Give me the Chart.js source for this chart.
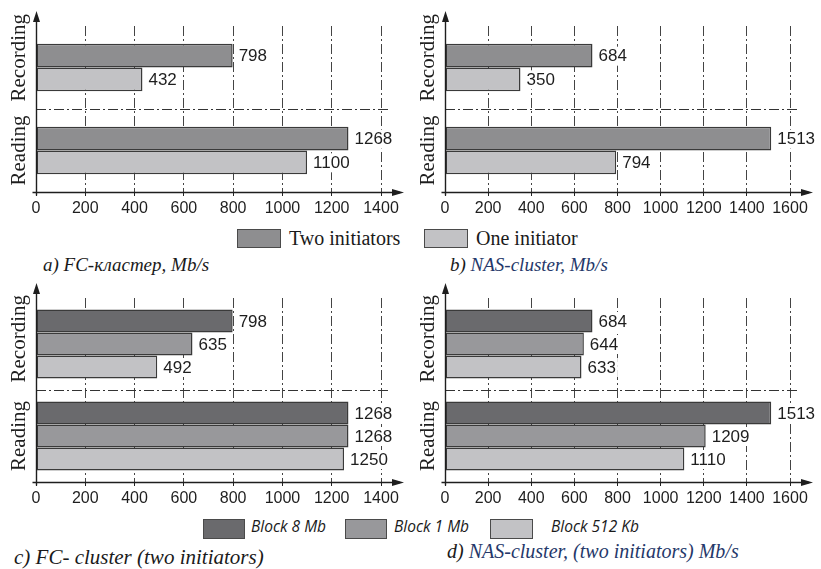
<!DOCTYPE html>
<html>
<head>
<meta charset="utf-8">
<script src="https://cdn.jsdelivr.net/npm/chart.js@4.4.1/dist/chart.umd.min.js"></script>
<style>
html, body { margin: 0; padding: 0; background: #ffffff; }
body { width: 821px; height: 569px; position: relative; overflow: hidden; }
canvas { position: absolute; }
.box { position: absolute; border: 1.5px solid #4a4a4a; box-sizing: border-box; }
.lt { position: absolute; white-space: nowrap; line-height: 1; color: #1a1a1a; }
.serif { font-family: "Liberation Serif", "Times New Roman", serif; font-size: 20px; }
.isans { font-family: "Open Sans", "Liberation Sans", sans-serif; font-style: italic; font-size: 15.5px; }
.cap { font-family: "Liberation Serif", "Times New Roman", serif; font-style: italic; font-size: 19px; }
.blue { color: #25386a; }
</style>
</head>
<body>
<canvas id="chartA" width="410" height="222" style="left:0px;top:0px"></canvas>
<canvas id="chartB" width="411" height="222" style="left:410px;top:0px"></canvas>
<canvas id="chartC" width="410" height="232" style="left:0px;top:280px"></canvas>
<canvas id="chartD" width="411" height="232" style="left:410px;top:280px"></canvas>

<div class="box" style="left:237px;top:229px;width:44px;height:19px;background:#8e8e90"></div>
<div class="lt serif" style="left:289px;top:228px">Two initiators</div>
<div class="box" style="left:424px;top:229px;width:44px;height:19px;background:#c2c2c5"></div>
<div class="lt serif" style="left:476px;top:228px">One initiator</div>

<div class="lt cap" style="left:43px;top:255px">a) FC-кластер, Mb/s</div>
<div class="lt cap blue" style="left:450px;top:255px"><span style="color:#1a1a1a">b)</span> NAS-cluster, Mb/s</div>

<div class="box" style="left:203px;top:519px;width:42px;height:20px;background:#6a6a6d"></div>
<div class="lt isans" style="left:251px;top:519px">Block 8 Mb</div>
<div class="box" style="left:345px;top:519px;width:42px;height:20px;background:#98989b"></div>
<div class="lt isans" style="left:394px;top:519px">Block 1 Mb</div>
<div class="box" style="left:490px;top:519px;width:43px;height:20px;background:#c2c2c5"></div>
<div class="lt isans" style="left:551px;top:519px">Block 512 Kb</div>

<div class="lt cap" style="left:14px;top:547px;font-size:21px">c) FC- cluster (two initiators)</div>
<div class="lt cap blue" style="left:447px;top:541px;font-size:20px"><span style="color:#1a1a1a">d)</span> NAS-cluster, (two initiators) Mb/s</div>

<script>
// ---------- data ----------
const categories = ['Recording', 'Reading'];
const fcTicks = [0, 200, 400, 600, 800, 1000, 1200, 1400];
const nasTicks = [0, 200, 400, 600, 800, 1000, 1200, 1400, 1600];

const legendInitiators = ['Two initiators', 'One initiator'];
const legendBlocks = ['Block 8 Mb', 'Block 1 Mb', 'Block 512 Kb'];

// a) FC cluster
const fcTwoInitiators = [798, 1268];
const fcOneInitiator = [432, 1100];
// b) NAS cluster
const nasTwoInitiators = [684, 1513];
const nasOneInitiator = [350, 794];
// c) FC cluster, two initiators, by block size
const fcBlock8Mb = [798, 1268];
const fcBlock1Mb = [635, 1268];
const fcBlock512Kb = [492, 1250];
// d) NAS cluster, two initiators, by block size
const nasBlock8Mb = [684, 1513];
const nasBlock1Mb = [644, 1209];
const nasBlock512Kb = [633, 1110];

// ---------- styles ----------
const COL_DARK = '#6a6a6d';
const COL_MID = '#8e8e90';
const COL_MID2 = '#98989b';
const COL_LIGHT = '#c2c2c5';
const BORDER = '#3a3a3a';

const decor = {
  id: 'decor',
  afterDatasetsDraw(chart) {
    const { ctx } = chart;
    ctx.save();
    ctx.font = '17px "Liberation Sans", Arial, sans-serif';
    ctx.textAlign = 'left';
    ctx.textBaseline = 'middle';
    chart.data.datasets.forEach((ds, di) => {
      const meta = chart.getDatasetMeta(di);
      meta.data.forEach((bar, i) => {
        const txt = String(ds.data[i]);
        const w = ctx.measureText(txt).width;
        const tx = bar.x + 6;
        ctx.fillStyle = '#ffffff';
        ctx.fillRect(tx - 1, bar.y - 9, w + 3, 19);
        ctx.fillStyle = '#1e1e1e';
        ctx.fillText(txt, tx, bar.y + 1);
      });
    });
    ctx.restore();
  },
  afterDraw(chart) {
    const { ctx, chartArea: ca, scales: { x, y } } = chart;
    const x0 = x.getPixelForValue(0);
    const sepY = Math.round((y.getPixelForValue(0) + y.getPixelForValue(1)) / 2) + 0.5;
    ctx.save();
    // separator between categories
    ctx.strokeStyle = '#333';
    ctx.lineWidth = 1;
    ctx.setLineDash([10, 3, 2, 3]);
    ctx.beginPath();
    ctx.moveTo(x0, sepY);
    ctx.lineTo(ca.right + 10, sepY);
    ctx.stroke();
    ctx.setLineDash([]);
    // axes with arrows
    ctx.strokeStyle = '#1e1e1e';
    ctx.fillStyle = '#1e1e1e';
    ctx.lineWidth = 1.4;
    const ax = Math.round(x0) + 0.5;
    const ay = Math.round(ca.bottom) + 0.5;
    const tipY = ca.top - 15;
    const tipX = ca.right + 23;
    ctx.beginPath();
    ctx.moveTo(ax, ay + 3);
    ctx.lineTo(ax, tipY + 4);
    ctx.moveTo(ax - 4, ay);
    ctx.lineTo(tipX - 4, ay);
    ctx.stroke();
    ctx.beginPath();
    ctx.moveTo(ax, tipY);
    ctx.lineTo(ax - 3.5, tipY + 11);
    ctx.lineTo(ax + 3.5, tipY + 11);
    ctx.closePath();
    ctx.fill();
    ctx.beginPath();
    ctx.moveTo(tipX, ay);
    ctx.lineTo(tipX - 12, ay - 3.5);
    ctx.lineTo(tipX - 12, ay + 3.5);
    ctx.closePath();
    ctx.fill();
    // rotated category labels
    ctx.font = '21px "Liberation Serif", "Times New Roman", serif';
    ctx.fillStyle = '#1e1e1e';
    ctx.textAlign = 'center';
    ctx.textBaseline = 'middle';
    chart.data.labels.forEach((lab, i) => {
      const w = ctx.measureText(lab).width;
      let cy = y.getPixelForValue(i);
      if (i === 0) cy = Math.min(cy, sepY - 8 - w / 2);
      ctx.save();
      ctx.translate(ax - 17, cy);
      ctx.rotate(-Math.PI / 2);
      ctx.fillText(lab, 0, 0);
      ctx.restore();
    });
    ctx.restore();
  }
};

function makeChart(id, datasetsSpec, ticks, pad, catPct, axisH) {
  const datasets = datasetsSpec.map(d => ({
    label: d.label,
    data: d.data,
    backgroundColor: d.color,
    borderColor: BORDER,
    borderWidth: 1.5,
    borderSkipped: false,
    barPercentage: 1,
    categoryPercentage: catPct
  }));
  return new Chart(document.getElementById(id), {
    type: 'bar',
    data: { labels: categories, datasets },
    options: {
      indexAxis: 'y',
      responsive: false,
      animation: false,
      devicePixelRatio: 1,
      layout: { padding: pad },
      plugins: { legend: { display: false }, tooltip: { enabled: false } },
      scales: {
        y: { display: false },
        x: {
          min: ticks[0],
          max: ticks[ticks.length - 1],
          afterBuildTicks: s => { s.ticks = ticks.map(v => ({ value: v })); },
          afterFit: s => { s.height = axisH; },
          ticks: {
            autoSkip: false,
            maxRotation: 0,
            padding: 3,
            color: '#1e1e1e',
            font: { family: '"Liberation Sans", Arial, sans-serif', size: 16 },
            callback: v => String(v)
          },
          grid: {
            color: '#444',
            lineWidth: 1,
            drawTicks: true,
            tickLength: 4,
            tickColor: '#222'
          },
          border: { display: false, dash: [10, 3, 2, 3] }
        }
      }
    },
    plugins: [decor]
  });
}

makeChart('chartA', [
  { label: legendInitiators[0], data: fcTwoInitiators, color: COL_MID },
  { label: legendInitiators[1], data: fcOneInitiator, color: COL_LIGHT }
], fcTicks, { left: 36, right: 29, top: 26, bottom: 0 }, 0.57, 30);

makeChart('chartB', [
  { label: legendInitiators[0], data: nasTwoInitiators, color: COL_MID },
  { label: legendInitiators[1], data: nasOneInitiator, color: COL_LIGHT }
], nasTicks, { left: 35, right: 31, top: 26, bottom: 0 }, 0.57, 30);

makeChart('chartC', [
  { label: legendBlocks[0], data: fcBlock8Mb, color: COL_DARK },
  { label: legendBlocks[1], data: fcBlock1Mb, color: COL_MID2 },
  { label: legendBlocks[2], data: fcBlock512Kb, color: COL_LIGHT }
], fcTicks, { left: 36, right: 29, top: 18, bottom: 0 }, 0.75, 30);

makeChart('chartD', [
  { label: legendBlocks[0], data: nasBlock8Mb, color: COL_DARK },
  { label: legendBlocks[1], data: nasBlock1Mb, color: COL_MID2 },
  { label: legendBlocks[2], data: nasBlock512Kb, color: COL_LIGHT }
], nasTicks, { left: 35, right: 31, top: 18, bottom: 0 }, 0.75, 30);
</script>
</body>
</html>
